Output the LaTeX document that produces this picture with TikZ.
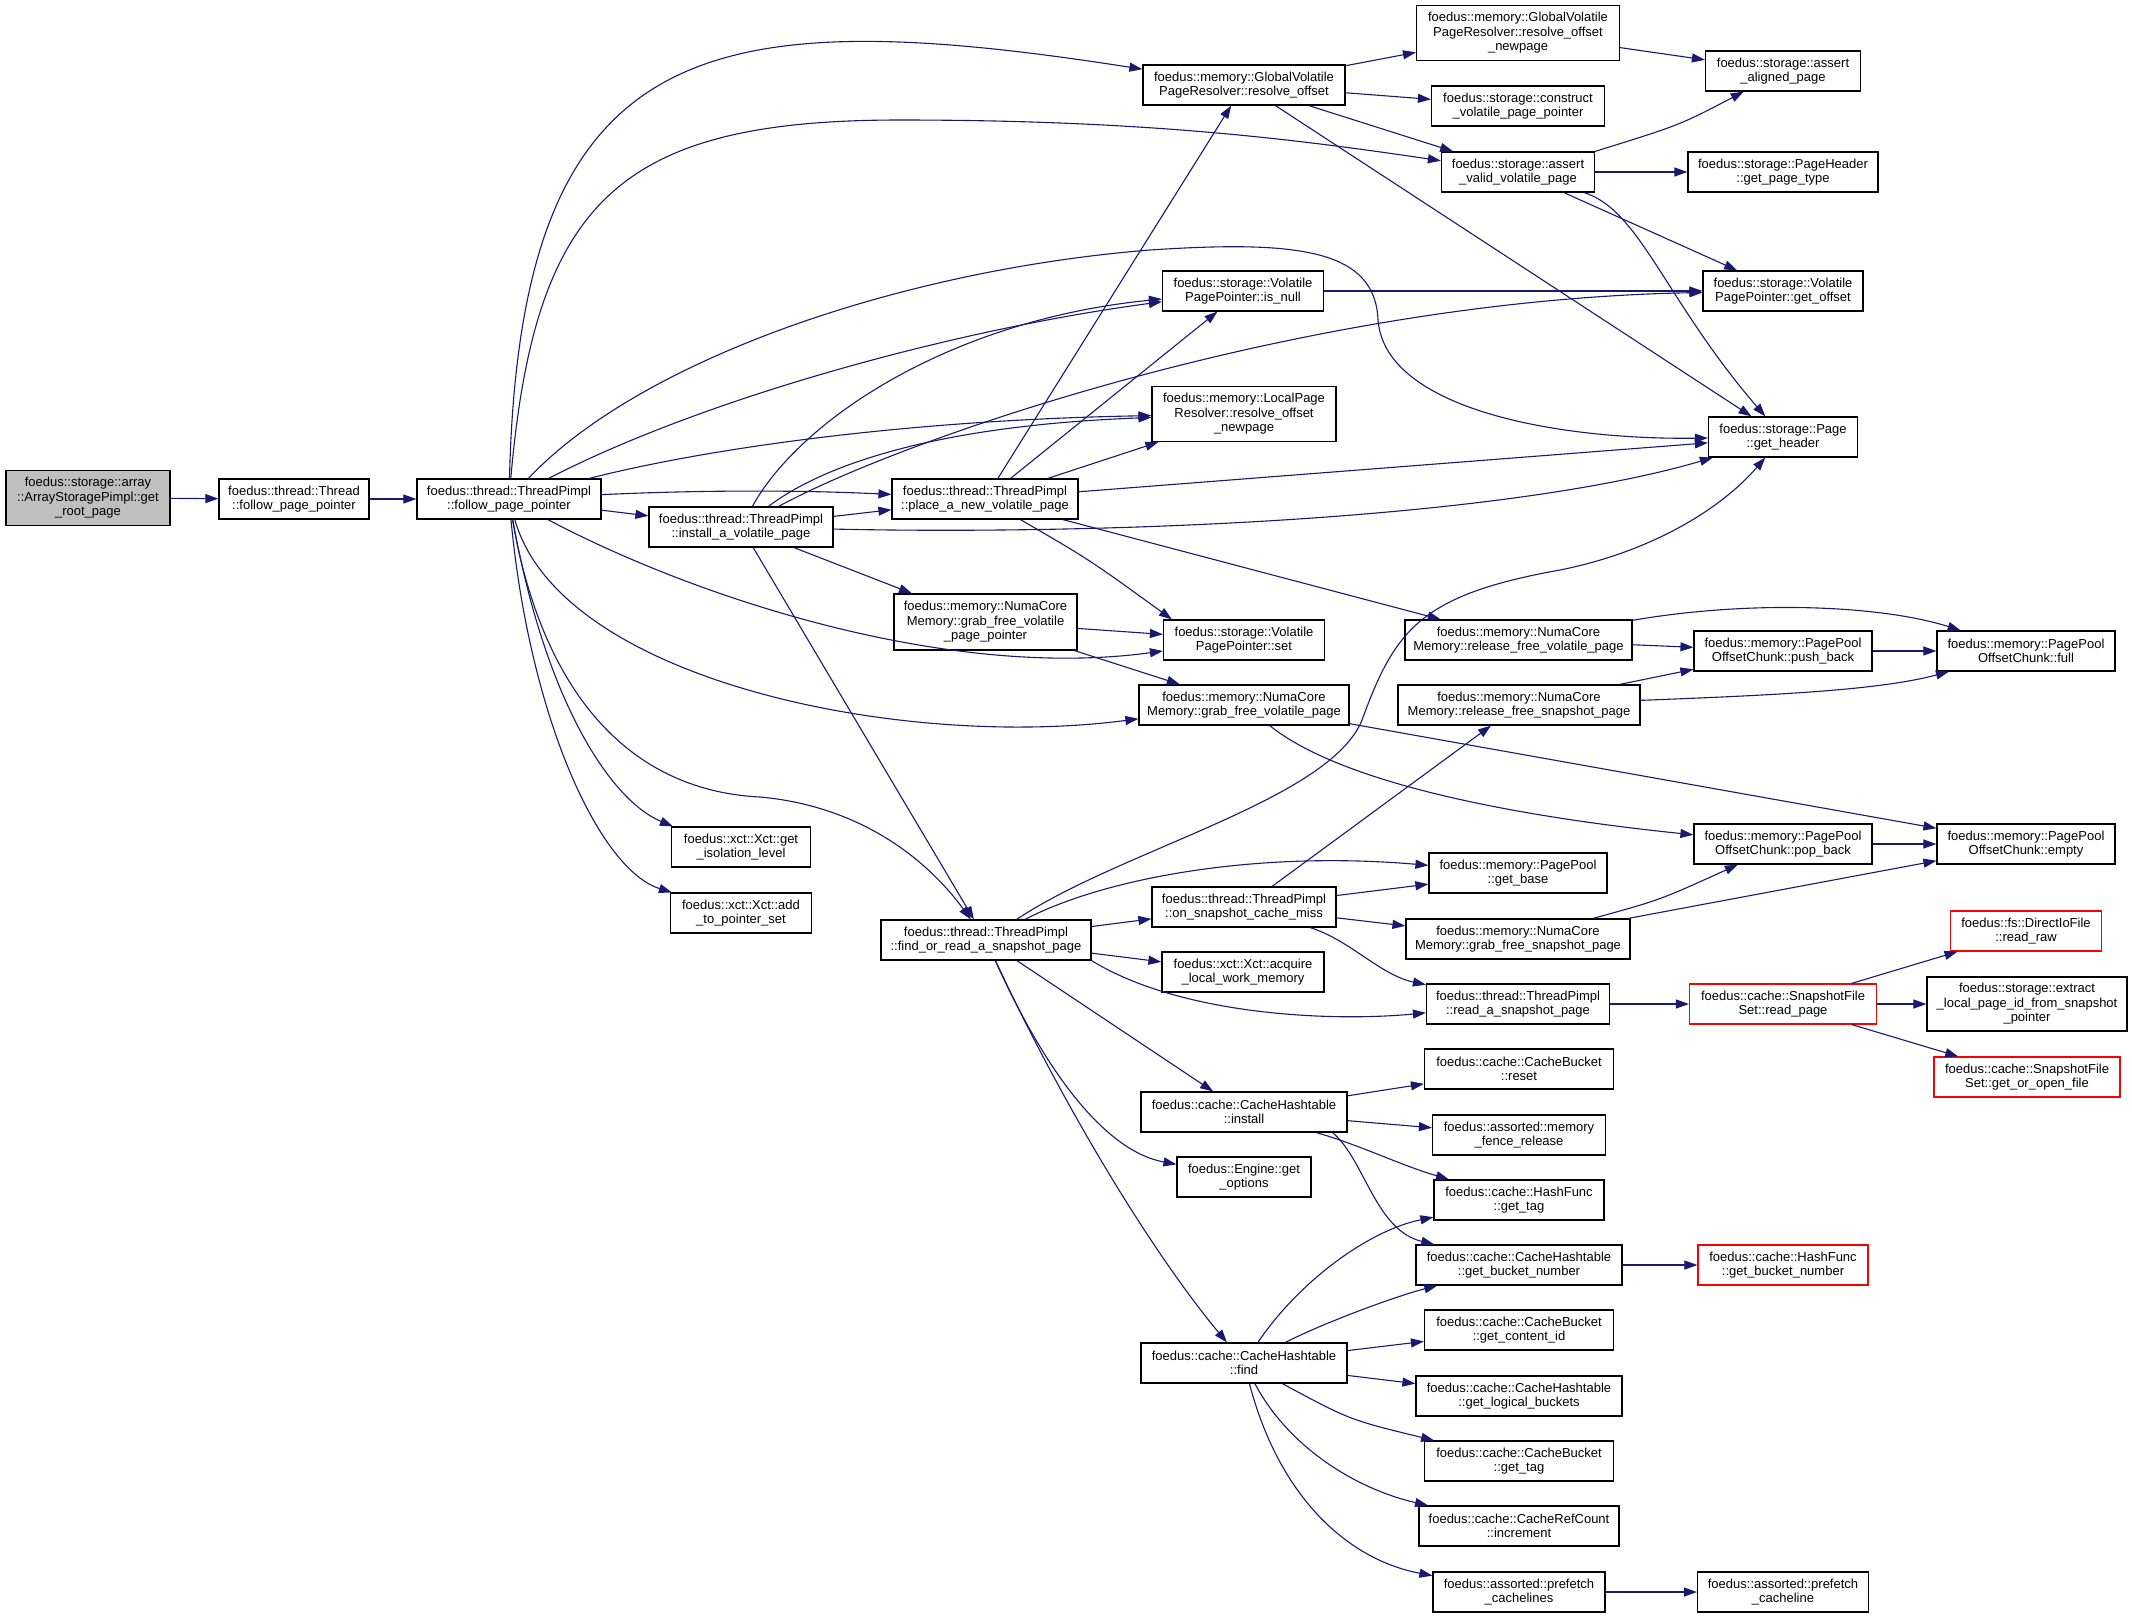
\documentclass[tikz,border=0pt]{standalone}
\usepackage{fontspec}
\setmainfont{Liberation Sans}
\usetikzlibrary{arrows.meta}
\definecolor{edgeblue}{RGB}{25,25,112}
\definecolor{rootgray}{RGB}{191,191,191}

\begin{document}
\begin{tikzpicture}[x=1pt,y=-1pt,
    fn/.style={draw=black,line width=1.2pt,fill=white,rectangle,inner sep=0pt,align=center,
      minimum height=40pt,font=\fontsize{13}{14.6}\selectfont},
    hot/.style={fn,draw=red},
    call/.style={draw=edgeblue,line width=1.1pt,-{Triangle[length=13pt,width=9pt]}}]
    \fill[white] (0,0) rectangle (2132,1618);
    \useasboundingbox (0,0) rectangle (2132,1618);

    % functions
    \node[fn,fill=rootgray,minimum width=164pt,minimum height=55pt] (root) at (88,498) {foedus::storage::array\\::ArrayStoragePimpl::get\\\_root\_page};
    \node[fn,minimum width=150pt] (tfpp) at (294,499) {foedus::thread::Thread\\::follow\_page\_pointer};
    \node[fn,minimum width=184pt] (fpp) at (509,499) {foedus::thread::ThreadPimpl\\::follow\_page\_pointer};
    \node[fn,minimum width=184pt] (iav) at (741,527) {foedus::thread::ThreadPimpl\\::install\_a\_volatile\_page};
    \node[fn,minimum width=186pt] (place) at (985,499) {foedus::thread::ThreadPimpl\\::place\_a\_new\_volatile\_page};
    \node[fn,minimum width=202pt] (ro) at (1244,85) {foedus::memory::GlobalVolatile\\PageResolver::resolve\_offset};
    \node[fn,minimum width=203pt,minimum height=55pt] (rona) at (1518,33) {foedus::memory::GlobalVolatile\\PageResolver::resolve\_offset\\\_newpage};
    \node[fn,minimum width=173pt] (cvpp) at (1518,106) {foedus::storage::construct\\\_volatile\_page\_pointer};
    \node[fn,minimum width=155pt] (aap) at (1783,71) {foedus::storage::assert\\\_aligned\_page};
    \node[fn,minimum width=153pt] (av) at (1518,172) {foedus::storage::assert\\\_valid\_volatile\_page};
    \node[fn,minimum width=190pt] (gpt) at (1783,172) {foedus::storage::PageHeader\\::get\_page\_type};
    \node[fn,minimum width=161pt] (inn) at (1243,291) {foedus::storage::Volatile\\PagePointer::is\_null};
    \node[fn,minimum width=160pt] (go) at (1783,291) {foedus::storage::Volatile\\PagePointer::get\_offset};
    \node[fn,minimum width=184pt,minimum height=55pt] (lpr) at (1244,414) {foedus::memory::LocalPage\\Resolver::resolve\_offset\\\_newpage};
    \node[fn,minimum width=149pt] (gh) at (1783,437) {foedus::storage::Page\\::get\_header};
    \node[fn,minimum width=183pt,minimum height=56pt] (gfvpp) at (985.5,622) {foedus::memory::NumaCore\\Memory::grab\_free\_volatile\\\_page\_pointer};
    \node[fn,minimum width=161pt] (vps) at (1244,640) {foedus::storage::Volatile\\PagePointer::set};
    \node[fn,minimum width=210pt] (gfvp) at (1244,705) {foedus::memory::NumaCore\\Memory::grab\_free\_volatile\_page};
    \node[fn,minimum width=227pt] (rfv) at (1518.5,640) {foedus::memory::NumaCore\\Memory::release\_free\_volatile\_page};
    \node[fn,minimum width=242pt] (rfs) at (1519,705) {foedus::memory::NumaCore\\Memory::release\_free\_snapshot\_page};
    \node[fn,minimum width=178pt] (pbk) at (1783,651) {foedus::memory::PagePool\\OffsetChunk::push\_back};
    \node[fn,minimum width=178pt] (full) at (2026,651) {foedus::memory::PagePool\\OffsetChunk::full};
    \node[fn,minimum width=178pt] (pob) at (1783,844) {foedus::memory::PagePool\\OffsetChunk::pop\_back};
    \node[fn,minimum width=178pt] (emp) at (2026,844) {foedus::memory::PagePool\\OffsetChunk::empty};
    \node[fn,minimum width=139pt] (iso) at (741,847) {foedus::xct::Xct::get\\\_isolation\_level};
    \node[fn,minimum width=141pt] (add) at (741,913) {foedus::xct::Xct::add\\\_to\_pointer\_set};
    \node[fn,minimum width=210pt] (frsp) at (986,940) {foedus::thread::ThreadPimpl\\::find\_or\_read\_a\_snapshot\_page};
    \node[fn,minimum width=178pt] (gb) at (1518,873) {foedus::memory::PagePool\\::get\_base};
    \node[fn,minimum width=184pt] (oscm) at (1244,907) {foedus::thread::ThreadPimpl\\::on\_snapshot\_cache\_miss};
    \node[fn,minimum width=224pt] (gfsp) at (1518,939) {foedus::memory::NumaCore\\Memory::grab\_free\_snapshot\_page};
    \node[fn,minimum width=162pt] (alwm) at (1243,972) {foedus::xct::Xct::acquire\\\_local\_work\_memory};
    \node[fn,minimum width=183pt] (rsp) at (1518,1004) {foedus::thread::ThreadPimpl\\::read\_a\_snapshot\_page};
    \node[hot,minimum width=187pt] (sfs) at (1783,1004) {foedus::cache::SnapshotFile\\Set::read\_page};
    \node[hot,minimum width=151pt] (rraw) at (2026,931) {foedus::fs::DirectIoFile\\::read\_raw};
    \node[fn,minimum width=200pt,minimum height=54pt] (ext) at (2027,1004) {foedus::storage::extract\\\_local\_page\_id\_from\_snapshot\\\_pointer};
    \node[hot,minimum width=186pt] (goof) at (2027,1077) {foedus::cache::SnapshotFile\\Set::get\_or\_open\_file};
    \node[fn,minimum width=189pt] (reset) at (1519,1069) {foedus::cache::CacheBucket\\::reset};
    \node[fn,minimum width=206pt] (chi) at (1244,1112) {foedus::cache::CacheHashtable\\::install};
    \node[fn,minimum width=173pt] (mfr) at (1519,1135) {foedus::assorted::memory\\\_fence\_release};
    \node[fn,minimum width=134pt] (geo) at (1244,1177) {foedus::Engine::get\\\_options};
    \node[fn,minimum width=170pt] (hgt) at (1519,1200) {foedus::cache::HashFunc\\::get\_tag};
    \node[fn,minimum width=206pt] (cgbn) at (1519,1265) {foedus::cache::CacheHashtable\\::get\_bucket\_number};
    \node[hot,minimum width=170pt] (hgbn) at (1783,1265) {foedus::cache::HashFunc\\::get\_bucket\_number};
    \node[fn,minimum width=206pt] (chf) at (1244,1363) {foedus::cache::CacheHashtable\\::find};
    \node[fn,minimum width=189pt] (gci) at (1519,1330) {foedus::cache::CacheBucket\\::get\_content\_id};
    \node[fn,minimum width=206pt] (glb) at (1519,1396) {foedus::cache::CacheHashtable\\::get\_logical\_buckets};
    \node[fn,minimum width=189pt] (cbt) at (1519,1461) {foedus::cache::CacheBucket\\::get\_tag};
    \node[fn,minimum width=200pt] (inc) at (1519,1526) {foedus::cache::CacheRefCount\\::increment};
    \node[fn,minimum width=172pt] (pfs) at (1519,1592) {foedus::assorted::prefetch\\\_cachelines};
    \node[fn,minimum width=171pt] (pf1) at (1783,1592) {foedus::assorted::prefetch\\\_cacheline};

    % straight calls
    \foreach \a/\b in {root/tfpp, tfpp/fpp, fpp/iav, iav/place, iav/gfvpp, iav/frsp,
        place/ro, place/inn, place/lpr, place/gh, place/rfv, ro/rona, ro/cvpp, ro/av, ro/gh,
        rona/aap, av/gpt, av/go, inn/go, gfvpp/vps, gfvpp/gfvp, gfvp/emp, rfv/pbk, rfs/pbk,
        pbk/full, pob/emp, oscm/rfs, oscm/gb, oscm/gfsp, gfsp/emp, frsp/oscm, frsp/alwm,
        frsp/chi, rsp/sfs, sfs/rraw, sfs/ext, sfs/goof, chi/reset, chi/mfr, chf/gci,
        chf/glb, cgbn/hgbn, pfs/pf1}
      \draw[call] (\a) -- (\b);

    % curved calls
    \draw[call] (fpp) .. controls (520,40) and (700,0) .. (ro);
    \draw[call] (fpp) .. controls (535,200) and (620,120) .. (900,120) .. controls (1150,120) and (1300,140) .. (av);
    \draw[call] (fpp) .. controls (640,360) and (900,270) .. (1150,250) .. controls (1300,240) and (1375,250) .. (1378,320) .. controls (1385,410) and (1560,440) .. (gh);
    \draw[call] (fpp) .. controls (700,400) and (950,330) .. (inn);
    \draw[call] (fpp) .. controls (700,450) and (900,420) .. (lpr);
    \draw[call] (fpp) .. controls (700,490) and (800,490) .. (place);
    \draw[call] (fpp) .. controls (700,600) and (950,680) .. (vps);
    \draw[call] (fpp) .. controls (560,680) and (900,750) .. (gfvp);
    \draw[call] (fpp) .. controls (540,680) and (620,790) .. (760,797) .. controls (850,805) and (920,850) .. (frsp);
    \draw[call] (fpp) .. controls (545,700) and (610,800) .. ([xshift=2pt]iso.north west);
    \draw[call] (fpp) .. controls (530,720) and (600,870) .. ([xshift=2pt]add.north west);

    \draw[call] (iav) .. controls (800,420) and (950,320) .. (inn);
    \draw[call] (iav) .. controls (830,460) and (950,425) .. (lpr);
    \draw[call] (iav) .. controls (900,440) and (1300,300) .. (go);
    \draw[call] (iav) .. controls (1100,535) and (1500,520) .. (gh);
    \draw[call] (place) .. controls (1090,560) .. ([xshift=9pt]vps.north west);

    \draw[call] (av.north east) .. controls (1680,125) .. (aap);
    \draw[call] (av) .. controls (1640,210) and (1665,300) .. (gh);
    \draw[call] (gfvp) .. controls (1350,790) and (1550,820) .. (pob);
    \draw[call] (rfv) .. controls (1750,600) and (1880,605) .. (full);
    \draw[call] (rfs) .. controls (1780,695) and (1880,690) .. (full);
    \draw[call] (oscm) .. controls (1350,940) and (1380,975) .. (rsp);
    \draw[call] (gfsp) .. controls (1660,900) .. (pob);

    \draw[call] (frsp) .. controls (1120,850) and (1330,800) .. (1362,720) .. controls (1395,630) and (1420,595) .. (1560,570) .. controls (1650,552) and (1720,510) .. (gh);
    \draw[call] (frsp) .. controls (1100,880) and (1250,850) .. (gb);
    \draw[call] (frsp.south east) .. controls (1180,1015) and (1330,1022) .. (rsp);
    \draw[call] (frsp) .. controls (1040,1060) and (1100,1150) .. (geo);
    \draw[call] (frsp) .. controls (1060,1100) and (1150,1250) .. (chf);

    \draw[call] (chi) .. controls (1360,1145) and (1400,1165) .. (hgt);
    \draw[call] ([xshift=-15pt]chi.south east) .. controls (1365,1160) and (1375,1230) .. (cgbn);
    \draw[call] (chf) .. controls (1300,1280) and (1370,1230) .. (hgt);
    \draw[call] (chf) .. controls (1330,1320) and (1400,1295) .. (cgbn);
    \draw[call] (chf) .. controls (1350,1420) .. (cbt);
    \draw[call] (chf) .. controls (1290,1450) and (1360,1490) .. (inc);
    \draw[call] (chf) .. controls (1280,1500) and (1350,1560) .. (pfs);
  \end{tikzpicture}
\end{document}
